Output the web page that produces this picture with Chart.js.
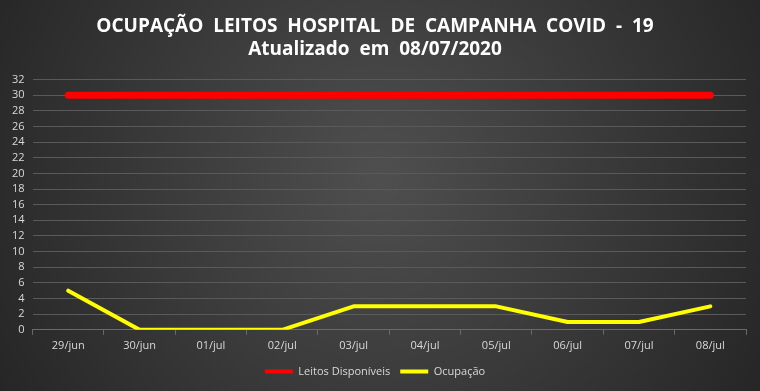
<!DOCTYPE html>
<html>
<head>
<meta charset="utf-8">
<script src="https://cdn.jsdelivr.net/npm/chart.js@4"></script>
<style>
  html, body { margin: 0; padding: 0; background: #2b2b2b; }
  #wrap { width: 760px; height: 391px; }
</style>
</head>
<body>
<div id="wrap"><canvas id="leitosChart" width="760" height="391"></canvas></div>
<script>
// dados do grafico
const dias = ["29/jun", "30/jun", "01/jul", "02/jul", "03/jul", "04/jul", "05/jul", "06/jul", "07/jul", "08/jul"];
const leitosDisponiveis = [30, 30, 30, 30, 30, 30, 30, 30, 30, 30];
const ocupacao = [5, 0, 0, 0, 3, 3, 3, 1, 1, 3];
const tituloLinhas = ["OCUPAÇÃO  LEITOS  HOSPITAL  DE  CAMPANHA  COVID  -  19", "Atualizado  em  08/07/2020"];

// fundo cinza com degrade radial
const fundo = {
  id: "fundo",
  beforeDraw(chart) {
    const c = chart.ctx;
    const w = chart.width, h = chart.height;
    const g = c.createRadialGradient(w * 0.5, h * 0.45, 10, w * 0.5, h * 0.45, w * 0.6);
    g.addColorStop(0, "#4e4e4e");
    g.addColorStop(1, "#242424");
    c.save();
    c.fillStyle = g;
    c.fillRect(0, 0, w, h);
    c.restore();
  }
};

const textColor = "#d9d9d9";

new Chart(document.getElementById("leitosChart"), {
  type: "line",
  data: {
    labels: dias,
    datasets: [{
      label: "Leitos Disponíveis",
      data: leitosDisponiveis,
      borderColor: "#ff0000",
      backgroundColor: "#ff0000",
      borderWidth: 7,
      borderCapStyle: "round",
      pointRadius: 0,
      tension: 0
    }, {
      label: "Ocupação",
      data: ocupacao,
      borderColor: "#ffff00",
      backgroundColor: "#ffff00",
      borderWidth: 4,
      borderCapStyle: "round",
      borderJoinStyle: "round",
      pointRadius: 0,
      tension: 0
    }]
  },
  options: {
    responsive: false,
    animation: false,
    layout: { padding: { left: 4, right: 14, top: 0, bottom: 4 } },
    plugins: {
      title: {
        display: true,
        text: tituloLinhas,
        color: "#ffffff",
        font: { family: "Open Sans", size: 19, weight: "bold" },
        lineHeight: 1.26,
        padding: { top: 15, bottom: 19 }
      },
      legend: {
        position: "bottom",
        labels: {
          color: textColor,
          font: { family: "Open Sans", size: 11 },
          boxWidth: 28,
          boxHeight: 4,
          padding: 10,
          generateLabels(chart) {
            const items = Chart.defaults.plugins.legend.labels.generateLabels(chart);
            items.forEach((it) => { it.lineWidth = 0; });
            return items;
          }
        }
      },
      tooltip: { enabled: false }
    },
    scales: {
      x: {
        offset: true,
        grid: { offset: true, drawOnChartArea: false, drawTicks: true, tickLength: 5, color: "#6a6a6a" },
        border: { color: "#6a6a6a" },
        ticks: { color: textColor, font: { family: "Open Sans", size: 11 }, padding: 4, maxRotation: 0 }
      },
      y: {
        min: 0,
        max: 32,
        ticks: { stepSize: 2, autoSkip: false, color: textColor, font: { family: "Open Sans", size: 11 }, padding: 8 },
        grid: { color: "#5a5a5a", drawTicks: false },
        border: { display: false }
      }
    }
  },
  plugins: [fundo]
});
</script>
</body>
</html>
